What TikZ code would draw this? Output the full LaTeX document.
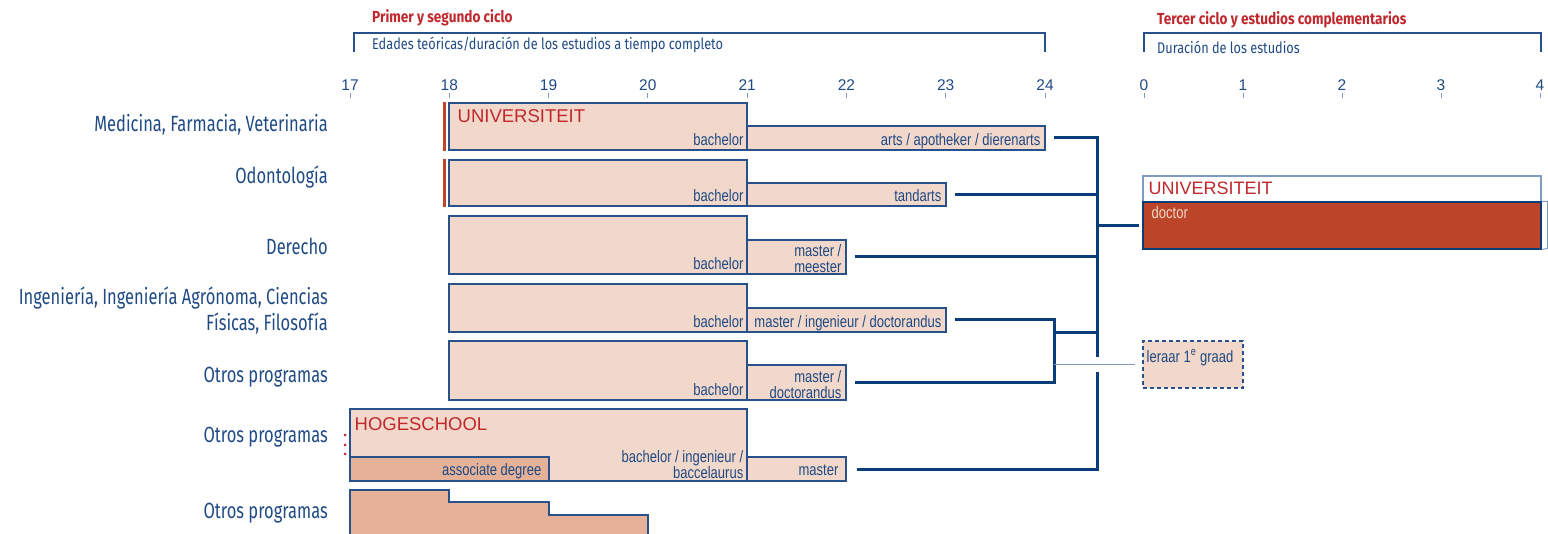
\documentclass[tikz,border=0pt]{standalone}
\usepackage{fontspec}
\setmainfont{Liberation Sans}
\newfontfamily\narrowfont[FakeStretch=0.79]{Liberation Sans}
\newfontfamily\lblfont[FakeStretch=0.75]{Fira Sans}
\newfontfamily\hdrfont[FakeStretch=0.85]{Fira Sans}
\newfontfamily\subfont[FakeStretch=0.82]{Fira Sans}
\usetikzlibrary{positioning,fit,calc}
\definecolor{txtblue}{HTML}{1F4A84}
\definecolor{linkblue}{HTML}{0B3D78}
\definecolor{boxline}{HTML}{28508A}
\definecolor{lightline}{HTML}{7D9CC0}
\definecolor{peach}{HTML}{F2D8CA}
\definecolor{peachdark}{HTML}{E5B299}
\definecolor{redtxt}{HTML}{C0282D}
\definecolor{docred}{HTML}{BC4529}
\definecolor{redbar}{HTML}{C2432A}

\begin{document}
\begin{tikzpicture}[x=1pt,y=-1pt,
  progbox/.style={draw=boxline, line width=1.1pt, fill=peach, inner sep=0pt},
  darkbox/.style={progbox, fill=peachdark},
  boxtext/.style={font=\narrowfont\fontsize{16.5}{15.5}\selectfont, text=txtblue, inner sep=0pt, align=right},
  instname/.style={font=\fontsize{18.5}{20}\selectfont, text=redtxt, inner sep=0pt, anchor=north west},
  rowlabel/.style={font=\lblfont\fontsize{22}{26}\selectfont, text=txtblue, anchor=east, align=right, inner sep=0pt},
  ticklabel/.style={font=\fontsize{15.5}{16}\selectfont, text=txtblue, inner sep=0pt},
  headtext/.style={font=\hdrfont\bfseries\fontsize{16}{17}\selectfont, text=redtxt, anchor=west, inner sep=0pt},
  subtext/.style={font=\subfont\fontsize{15.5}{16}\selectfont, text=txtblue, anchor=west, inner sep=0pt},
  link/.style={draw=linkblue, line width=3pt},
  thinlink/.style={draw=lightline, line width=1.2pt},
  bracket/.style={draw=boxline, line width=1.1pt},
  redmark/.style={draw=redbar, line width=3pt}]
\useasboundingbox (0,0) rectangle (1548,534);

% headers and brackets
\node[headtext] (head1) at (372,18) {Primer y segundo ciclo};
\draw[bracket] (354,52) |- (1045,33) -- (1045,52);
\node[subtext] (sub1) at (372,45) {Edades teóricas/duración de los estudios a tiempo completo};
\node[headtext] (head2) at (1157,20) {Tercer ciclo y estudios complementarios};
\draw[bracket] (1144,52) |- (1541,33) -- (1541,52);
\node[subtext] (sub2) at (1157,47) {Duración de los estudios};

% age and duration scales
\foreach \a [count=\i from 0] in {17,...,24} {
  \draw[lightline, line width=1pt] ({350+\i*99.286},93) -- ({350+\i*99.286},98);
  \node[ticklabel] (age\a) at ({350+\i*99.286},85) {\a};
}
\foreach \d in {0,...,4} {
  \draw[lightline, line width=1pt] ({1144+\d*99},93) -- ({1144+\d*99},98);
  \node[ticklabel] (dur\d) at ({1144+\d*99},85) {\d};
}

% row labels
\node[rowlabel] (lab1) at (328,125) {Medicina, Farmacia, Veterinaria};
\node[rowlabel] (lab2) at (328,177) {Odontología};
\node[rowlabel] (lab3) at (328,246) {Derecho};
\node[rowlabel] (lab4) at (328,311) {Ingeniería, Ingeniería Agrónoma, Ciencias\\Físicas, Filosofía};
\node[rowlabel] (lab5) at (328,377) {Otros programas};
\node[rowlabel] (lab6) at (328,437) {Otros programas};
\node[rowlabel] (lab7) at (328,513) {Otros programas};

% universiteit bachelor blocks
\node[progbox, fit={(449,103) (747,150)}] (u1) {};
\node[progbox, fit={(449,160) (747,206)}] (u2) {};
\node[progbox, fit={(449,216) (747,274)}] (u3) {};
\node[progbox, fit={(449,284) (747,332)}] (u4) {};
\node[progbox, fit={(449,341) (747,400)}] (u5) {};
\foreach \n in {1,...,5}
  \node[boxtext, anchor=base east] (ub\n) at ([shift={(-4pt,5pt)}]u\n.south east) {bachelor};
\node[instname] (uname) at ([shift={(9pt,-7pt)}]u1.north west) {UNIVERSITEIT};
\draw[redmark] ([xshift=-4pt]u1.north west) -- ([xshift=-4pt]u1.south west);
\draw[redmark] ([xshift=-4pt]u2.north west) -- ([xshift=-4pt]u2.south west);

% second degree blocks
\node[progbox, fit={(747,126) (1045,150)}] (m1) {};
\node[progbox, fit={(747,183) (946,206)}] (m2) {};
\node[progbox, fit={(747,240) (846,274)}] (m3) {};
\node[progbox, fit={(747,308) (946,332)}] (m4) {};
\node[progbox, fit={(747,365) (846,400)}] (m5) {};
\node[boxtext, anchor=base east] (mt1) at ([shift={(-5pt,5pt)}]m1.south east) {arts / apotheker / dierenarts};
\node[boxtext, anchor=base east] (mt2) at ([shift={(-5pt,5pt)}]m2.south east) {tandarts};
\node[boxtext, anchor=south east] (mt3) at ([shift={(-5pt,2pt)}]m3.south east) {master /\\meester};
\node[boxtext, anchor=base east] (mt4) at ([shift={(-5pt,5pt)}]m4.south east) {master / ingenieur / doctorandus};
\node[boxtext, anchor=south east] (mt5) at ([shift={(-5pt,2pt)}]m5.south east) {master /\\doctorandus};

% hogeschool
\node[progbox, fit={(350,409) (747,481)}] (h6) {};
\node[darkbox, fit={(350,457) (549,481)}] (a6) {};
\node[progbox, fit={(747,457) (846,481)}] (m6) {};
\node[instname] (hname) at ([shift={(5pt,-9pt)}]h6.north west) {HOGESCHOOL};
\node[boxtext, anchor=south east] (ht6) at ([shift={(-4pt,3pt)}]h6.south east) {bachelor / ingenieur /\\baccelaurus};
\node[boxtext, anchor=base east] (at6) at ([shift={(-8pt,6pt)}]a6.south east) {associate degree};
\node[boxtext, anchor=base east] (mt6) at ([shift={(-8pt,6pt)}]m6.south east) {master};
\foreach \y in {435,445,454}
  \fill[redtxt] (345,\y) circle (1.5pt);

% other programmes, stepped
\filldraw[fill=peachdark, draw=boxline, line width=1.1pt]
  (350,540) -- (350,490) -- (449,490) -- (449,502) -- (549,502) -- (549,515) -- (648,515) -- (648,540);

% third cycle
\node[draw=lightline, line width=1.1pt, fill=white, inner sep=0pt, fit={(1143,176) (1541,202)}] (dhead) {};
\node[draw=linkblue, line width=1.1pt, fill=docred, inner sep=0pt, fit={(1143,202) (1541,249)}] (doc) {};
\draw[lightline, line width=1pt] (doc.north east) -- ++(6pt,0) -- ++(0,-47pt) -- (doc.south east);
\node[instname, font=\fontsize{18}{20}\selectfont] (dname) at ([shift={(6pt,-6pt)}]dhead.north west) {UNIVERSITEIT};
\node[boxtext, text=peach, anchor=north west] (dtext) at ([shift={(9pt,-5pt)}]doc.north west) {doctor};
\node[progbox, dashed, dash pattern=on 4pt off 3pt, fit={(1143,341) (1243,388)}] (ler) {};
\node[boxtext, anchor=west] (lertext) at ([shift={(4pt,7pt)}]ler.west) {leraar 1\textsuperscript{e} graad};

% connectors
\coordinate (spine) at (1097,0);
\coordinate (fork) at (1054,0);
\coordinate (gaptop) at (1097,357);
\coordinate (gapbot) at (1097,372);
\draw[link] ([xshift=8pt]m1.east) -| (gaptop);
\draw[link] ([xshift=8pt]m2.east) -- (m2.east -| spine);
\draw[link] ([xshift=8pt]m3.east) -- (m3.east -| spine);
\draw[link] ([xshift=8pt]m4.east) -| (fork |- m5.east) -- ([xshift=8pt]m5.east);
\draw[link] (fork |- u4.south) -- (spine |- u4.south);
\draw[link] ([xshift=10pt]m6.east) -| (gapbot);
\draw[link] (doc.west -| spine) -- ([xshift=-3pt]doc.west);
\draw[thinlink] (fork |- ler.west) -- ([xshift=-7pt]ler.west);
\end{tikzpicture}
\end{document}
